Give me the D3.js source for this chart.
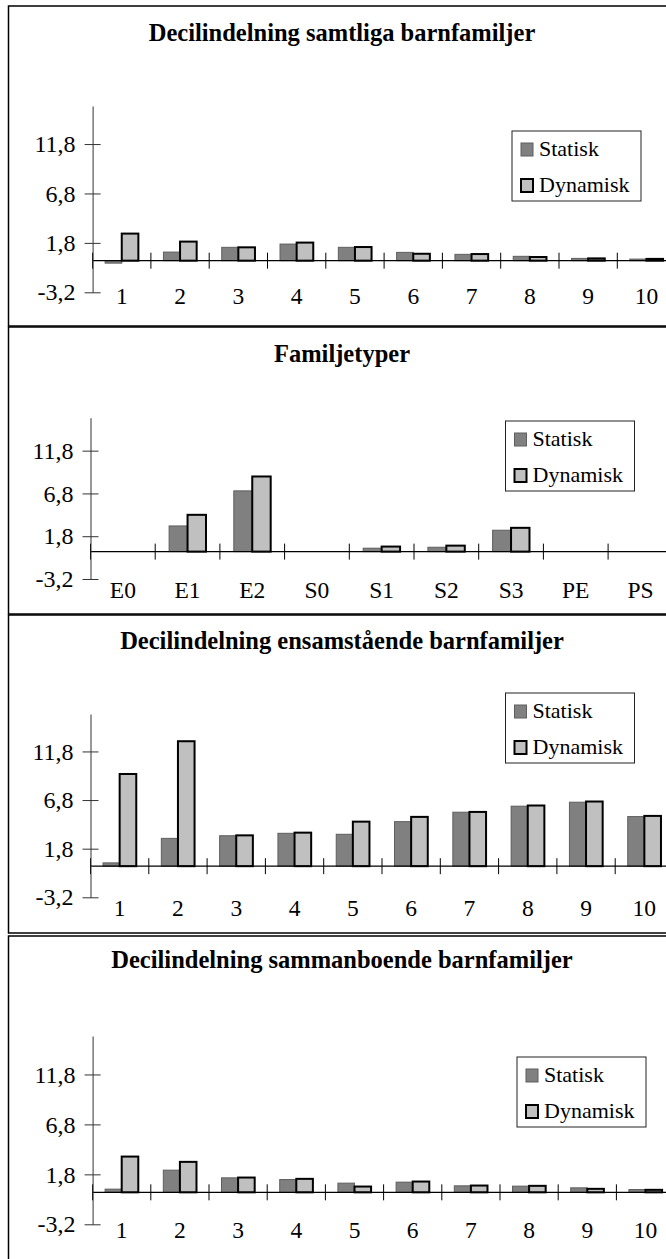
<!DOCTYPE html>
<html>
<head>
<meta charset="utf-8">
<script src="https://cdn.jsdelivr.net/npm/d3@7"></script>
<style>
  body { margin: 0; background: #fff; }
  svg { display: block; }
  svg text { font-family: "Liberation Serif", "Times New Roman", serif; fill: #000; }
</style>
</head>
<body>
<svg id="chart" width="666" height="1259"></svg>
<script>
// CONSTANTS
const WIDTH = 666;
const HEIGHT = 1259;
const FONT = '"Liberation Serif", "Times New Roman", serif';

// category labels
const deciles = ['1', '2', '3', '4', '5', '6', '7', '8', '9', '10'];
const familyTypes = ['E0', 'E1', 'E2', 'S0', 'S1', 'S2', 'S3', 'PE', 'PS'];
const seriesNames = ['Statisk', 'Dynamisk'];

// value axis
const yTicks = [-3.2, 1.8, 6.8, 11.8];
const yMin = -3.2;
const yMax = 15.65;

// Decilindelning samtliga barnfamiljer
const samtligaStatisk = [-0.25, 0.87, 1.35, 1.68, 1.35, 0.84, 0.64, 0.44, 0.23, 0.16];
const samtligaDynamisk = [2.74, 1.93, 1.35, 1.83, 1.38, 0.7, 0.67, 0.37, 0.23, 0.18];

// Familjetyper (null = no bar)
const familjStatisk = [null, 3.0, 7.1, null, 0.4, 0.51, 2.5, null, null];
const familjDynamisk = [null, 4.3, 8.78, null, 0.59, 0.7, 2.78, null, null];

// Decilindelning ensamstående barnfamiljer
const ensamStatisk = [0.34, 2.86, 3.13, 3.38, 3.28, 4.58, 5.55, 6.17, 6.58, 5.1];
const ensamDynamisk = [9.48, 12.85, 3.17, 3.45, 4.58, 5.07, 5.58, 6.24, 6.65, 5.17];

// Decilindelning sammanboende barnfamiljer
const sammanStatisk = [0.32, 2.22, 1.45, 1.28, 0.92, 1.02, 0.65, 0.62, 0.45, 0.28];
const sammanDynamisk = [3.58, 3.05, 1.48, 1.35, 0.58, 1.08, 0.68, 0.65, 0.35, 0.25];

const seriesStyle = {
  Statisk: { fill: '#808080', stroke: '#5e5e5e', width: 1 },
  Dynamisk: { fill: '#c0c0c0', stroke: '#000', width: 2 }
};

// panel layout, values
const panels = [
  { title: 'Decilindelning samtliga barnfamiljer', cats: deciles, values: [samtligaStatisk, samtligaDynamisk],
    top: 6, bottom: 326, titleY: 41, axisX: 92.6, yTop: 106, yBottom: 292.3, band: 58.3, legend: [512, 131], labelDy: 12 },
  { title: 'Familjetyper', cats: familyTypes, values: [familjStatisk, familjDynamisk],
    top: 327, bottom: 614, titleY: 362, axisX: 90.5, yTop: 417.7, yBottom: 579, band: 64.7, legend: [505.5, 421], labelDy: 19 },
  { title: 'Decilindelning ensamstående barnfamiljer', cats: deciles, values: [ensamStatisk, ensamDynamisk],
    top: 615, bottom: 933, titleY: 649, axisX: 90.5, yTop: 714, yBottom: 897.3, band: 58.3, legend: [505.5, 693], labelDy: 18.5 },
  { title: 'Decilindelning sammanboende barnfamiljer', cats: deciles, values: [sammanStatisk, sammanDynamisk],
    top: 936, bottom: 1290, titleY: 968, axisX: 92.6, yTop: 1036, yBottom: 1224.3, band: 58.2, legend: [517, 1057], labelDy: 14 }
];

let svg = d3.select('#chart');
svg.append('rect').attr('width', WIDTH).attr('height', HEIGHT).attr('fill', '#fff');

let formatTick = d => d3.format('.1f')(d).replace('.', ',').replace('\u2212', '-');

panels.forEach(drawPanel);

/**
 * Draws one framed bar chart panel
 * @param {object} p panel config
 */
function drawPanel(p) {
  let g = svg.append('g');

  // frame, right side runs off the page like in the original
  g.append('rect')
    .attr('x', 8.5).attr('y', p.top)
    .attr('width', 700).attr('height', p.bottom - p.top)
    .attr('fill', 'none').attr('stroke', '#000').attr('stroke-width', 1.5);

  g.append('text')
    .attr('x', 342).attr('y', p.titleY)
    .attr('text-anchor', 'middle')
    .style('font-family', FONT)
    .style('font-size', '24.5px').style('font-weight', 'bold')
    .text(p.title);

  let x = d3.scaleBand().domain(p.cats)
    .range([p.axisX, p.axisX + p.cats.length * p.band]).padding(0);
  let inner = d3.scaleBand().domain(seriesNames)
    .range([x.bandwidth() * 0.215, x.bandwidth() * 0.785]).padding(0);
  let y = d3.scaleLinear().domain([yMin, yMax]).range([p.yBottom, p.yTop]);

  // bars
  seriesNames.forEach((name, si) => {
    let st = seriesStyle[name];
    let rows = p.cats.map((c, i) => ({ cat: c, v: p.values[si][i] })).filter(d => d.v !== null);
    g.append('g').selectAll('rect').data(rows).join('rect')
      .attr('x', d => x(d.cat) + inner(name))
      .attr('width', inner.bandwidth())
      .attr('y', d => y(Math.max(0, d.v)))
      .attr('height', d => Math.abs(y(d.v) - y(0)))
      .attr('fill', st.fill)
      .attr('stroke', st.stroke)
      .attr('stroke-width', st.width);
  });

  // category axis along zero
  g.append('line')
    .attr('x1', p.axisX).attr('x2', WIDTH + 20)
    .attr('y1', y(0)).attr('y2', y(0))
    .attr('stroke', '#000').attr('stroke-width', 1.3);

  let bounds = p.cats.map(c => x(c)).concat([x.range()[1]]);
  g.append('g').selectAll('line').data(bounds).join('line')
    .attr('x1', d => d).attr('x2', d => d)
    .attr('y1', y(0) - 8).attr('y2', y(0) + 8)
    .attr('stroke', '#000').attr('stroke-width', 1);

  let xAxis = g.append('g')
    .attr('transform', `translate(0,${p.yBottom + p.labelDy})`)
    .call(d3.axisBottom(x).tickSize(0).tickPadding(0));
  xAxis.attr('font-family', null).attr('font-size', null);
  xAxis.select('.domain').remove();
  xAxis.selectAll('text')
    .attr('y', 0).attr('dy', null)
    .style('font-size', '23.5px').style('font-family', FONT);

  // value axis with cross ticks
  let yAxis = g.append('g')
    .attr('transform', `translate(${p.axisX},0)`)
    .call(d3.axisLeft(y).tickValues(yTicks).tickSizeInner(8).tickSizeOuter(0)
      .tickPadding(9).tickFormat(formatTick));
  yAxis.attr('font-family', null).attr('font-size', null);
  yAxis.select('.domain').attr('stroke', '#333');
  yAxis.selectAll('.tick line').attr('x1', 8).attr('stroke', '#333');
  yAxis.selectAll('text')
    .style('font-size', '24px').style('font-family', FONT);

  drawLegend(g, p.legend[0], p.legend[1]);
}

/**
 * Legend box with the two series
 */
function drawLegend(g, lx, ly) {
  let lg = g.append('g').attr('transform', `translate(${lx},${ly})`);
  lg.append('rect')
    .attr('width', 129).attr('height', 70)
    .attr('fill', '#fff').attr('stroke', '#222').attr('stroke-width', 1);

  let items = lg.selectAll('g.item').data(seriesNames).join('g')
    .attr('class', 'item')
    .attr('transform', (d, i) => `translate(0,${i * 36})`);
  items.append('rect')
    .attr('x', 9).attr('y', 12).attr('width', 12).attr('height', 13)
    .attr('fill', d => seriesStyle[d].fill)
    .attr('stroke', d => seriesStyle[d].stroke)
    .attr('stroke-width', d => seriesStyle[d].width);
  items.append('text')
    .attr('x', 27).attr('y', 25)
    .style('font-family', FONT)
    .style('font-size', '22px')
    .text(d => d);
}
</script>
</body>
</html>
